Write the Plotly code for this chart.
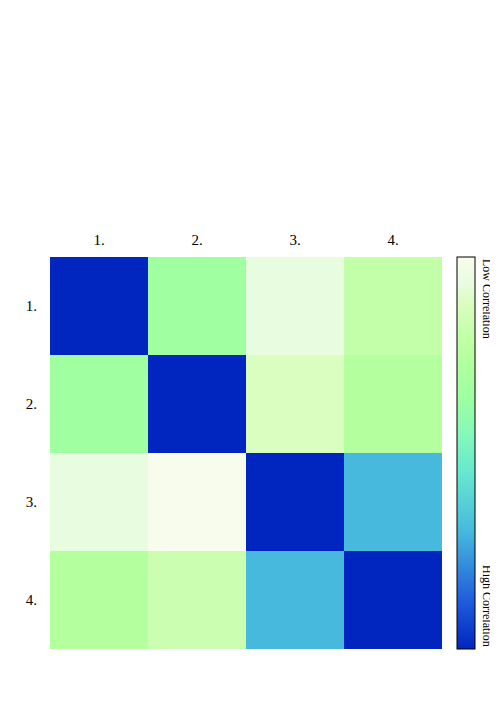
import plotly.graph_objects as go

labels = ['1.', '2.', '3.', '4.']

# position on the colour scale (0 = high correlation, 1 = low correlation)
row1 = [0.00, 0.65, 0.93, 0.80]
row2 = [0.65, 0.00, 0.88, 0.74]
row3 = [0.93, 1.00, 0.00, 0.30]
row4 = [0.74, 0.83, 0.30, 0.00]

colorscale = [
    [0.00, '#0026BF'],
    [0.12, '#1F5BDC'],
    [0.30, '#46B9DD'],
    [0.45, '#66E8D0'],
    [0.55, '#86F8B8'],
    [0.65, '#A0FFA0'],
    [0.74, '#B4FF9E'],
    [0.80, '#C2FFA8'],
    [0.88, '#DAFDC0'],
    [0.93, '#E8FCE0'],
    [1.00, '#F8FCEC'],
]

serif = 'Liberation Serif'

# the page body adds an 8px margin, so the figure is drawn 8px smaller
heat = go.Heatmap(
    z=[row1, row2, row3, row4],
    x=labels,
    y=labels,
    zmin=0, zmax=1,
    colorscale=colorscale,
    colorbar=dict(
        x=(457 - 50) / 392, xanchor='left', xpad=0, ypad=0,
        y=0.5, len=1, lenmode='fraction',
        thickness=18, outlinewidth=1, outlinecolor='black',
        showticklabels=False, ticks='',
    ),
    hoverongaps=False,
)

fig = go.Figure(heat)
fig.update_layout(
    width=490, height=698,
    margin=dict(l=42, r=56, t=249, b=57),
    paper_bgcolor='white', plot_bgcolor='white',
    font=dict(family=serif, size=15, color='black'),
    xaxis=dict(side='top', showgrid=False, zeroline=False, ticks='',
               ticklabelstandoff=8),
    yaxis=dict(autorange='reversed', showgrid=False, zeroline=False, ticks='',
               ticklabelstandoff=12),
    annotations=[
        dict(text='Low Correlation', textangle=90, xref='paper', yref='paper',
             x=(478 - 50) / 392, y=1.0, xanchor='left', yanchor='top',
             showarrow=False, font=dict(family=serif, size=12)),
        dict(text='High Correlation', textangle=90, xref='paper', yref='paper',
             x=(478 - 50) / 392, y=0.0, xanchor='left', yanchor='bottom',
             showarrow=False, font=dict(family=serif, size=12)),
    ],
)

fig.write_html('out.html')
